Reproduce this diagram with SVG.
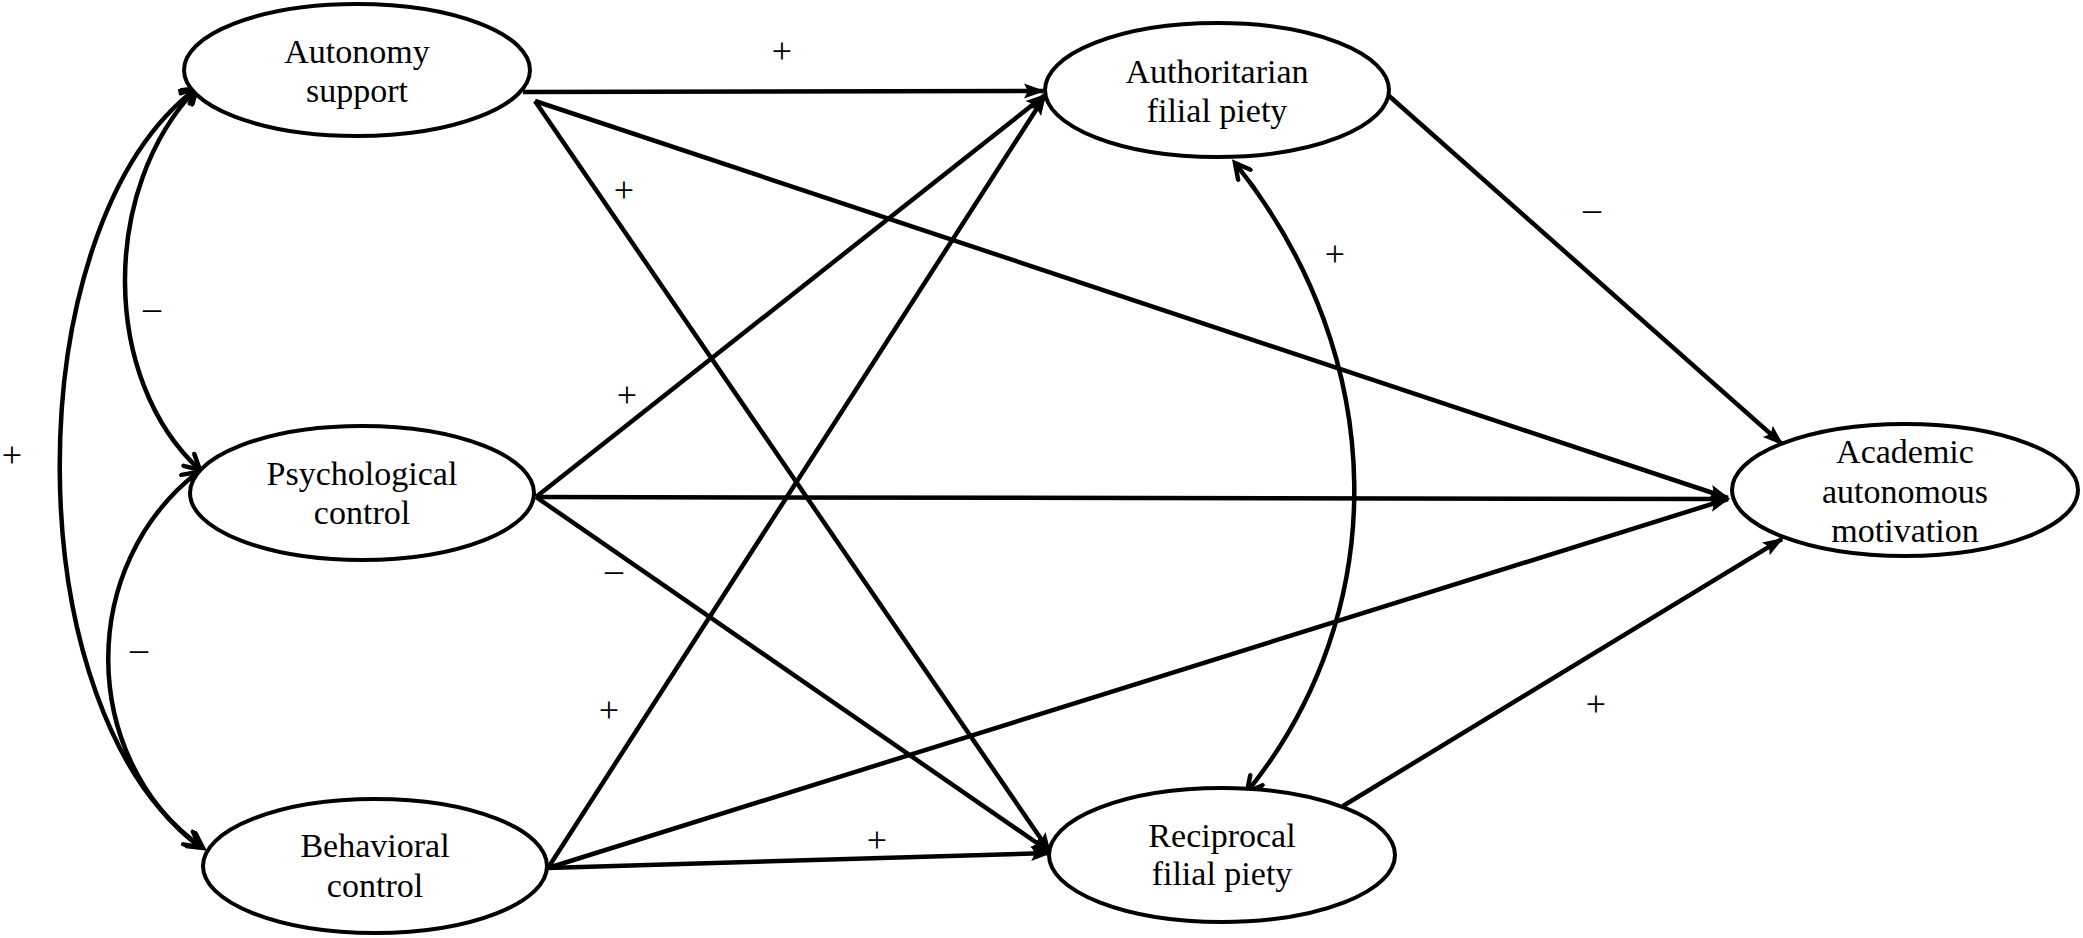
<svg xmlns="http://www.w3.org/2000/svg" width="2083" height="938" viewBox="0 0 2083 938">
<style>
.node ellipse{fill:#fff;stroke:#000;stroke-width:4}
.node text{font-family:"Liberation Serif","Times New Roman",serif;font-size:34px;fill:#000;text-anchor:middle}
.edge{fill:none;stroke:#000;stroke-width:4.5}
.path{marker-end:url(#arr)}
.cov{marker-start:url(#vee);marker-end:url(#vee)}
.lbl{font-family:"Liberation Serif","Times New Roman",serif;font-size:36px;fill:#000;text-anchor:middle}
</style>
<defs>
<marker id="arr" markerUnits="userSpaceOnUse" markerWidth="24" markerHeight="18" viewBox="0 0 24 18" refX="19" refY="9" orient="auto">
<path d="M0,1.5 L21,9 L0,16.5 L4,9 Z" fill="#000"/>
</marker>
<marker id="vee" markerUnits="userSpaceOnUse" markerWidth="24" markerHeight="20" viewBox="0 0 24 20" refX="18" refY="10" orient="auto-start-reverse">
<path d="M3,2 L18,10 L3,18" fill="none" stroke="#000" stroke-width="4.5" stroke-linecap="round" stroke-linejoin="miter"/>
</marker>
</defs>
<rect width="2083" height="938" fill="#fff"/>
<g id="connectors">
<path class="edge path" d="M523,92 L1043,91"/>
<path class="edge path" d="M535,101 L1728,498"/>
<path class="edge path" d="M535,101 L1050,852"/>
<path class="edge path" d="M536,497 L1045,95"/>
<path class="edge path" d="M536,497 L1728,499"/>
<path class="edge path" d="M536,497 L1050,852"/>
<path class="edge path" d="M548,868 L1045,96"/>
<path class="edge path" d="M548,868 L1728,499"/>
<path class="edge path" d="M548,868 L1050,853"/>
<path class="edge path" d="M1388,95 L1782,444"/>
<path class="edge path" d="M1343,806 L1782,539"/>
<path class="edge cov" d="M1235,163 C1392,359 1392,613 1247,792"/>
<path class="edge cov" d="M197,88 C100,188 101,380 200,470"/>
<path class="edge cov" d="M198,472 C78,565 78,755 200,847"/>
<path class="edge cov" d="M197,88 C13,225 13,716 203,848"/>
</g>
<g id="labels">
<text class="lbl" x="782" y="63">+</text>
<text class="lbl" x="624" y="202">+</text>
<text class="lbl" x="1592" y="221">–</text>
<text class="lbl" x="1335" y="266">+</text>
<text class="lbl" x="152" y="320">–</text>
<text class="lbl" x="627" y="407">+</text>
<text class="lbl" x="12" y="467">+</text>
<text class="lbl" x="614" y="582">–</text>
<text class="lbl" x="139" y="661">–</text>
<text class="lbl" x="609" y="722">+</text>
<text class="lbl" x="877" y="852">+</text>
<text class="lbl" x="1596" y="716">+</text>
</g>
<g id="autonomy-support" class="node">
<ellipse cx="357" cy="70" rx="173" ry="66"/>
<text x="357" y="63">Autonomy</text>
<text x="357" y="102">support</text>
</g>
<g id="psychological-control" class="node">
<ellipse cx="362" cy="493" rx="172" ry="67"/>
<text x="362" y="485">Psychological</text>
<text x="362" y="524">control</text>
</g>
<g id="behavioral-control" class="node">
<ellipse cx="375" cy="866" rx="172" ry="67"/>
<text x="375" y="857">Behavioral</text>
<text x="375" y="897">control</text>
</g>
<g id="authoritarian-filial-piety" class="node">
<ellipse cx="1217" cy="90" rx="172" ry="67"/>
<text x="1217" y="83">Authoritarian</text>
<text x="1217" y="122">filial piety</text>
</g>
<g id="reciprocal-filial-piety" class="node">
<ellipse cx="1222" cy="855" rx="173" ry="67"/>
<text x="1222" y="847">Reciprocal</text>
<text x="1222" y="885">filial piety</text>
</g>
<g id="academic-autonomous-motivation" class="node">
<ellipse cx="1905" cy="490" rx="173" ry="66"/>
<text x="1905" y="463">Academic</text>
<text x="1905" y="503">autonomous</text>
<text x="1905" y="542">motivation</text>
</g>
</svg>
